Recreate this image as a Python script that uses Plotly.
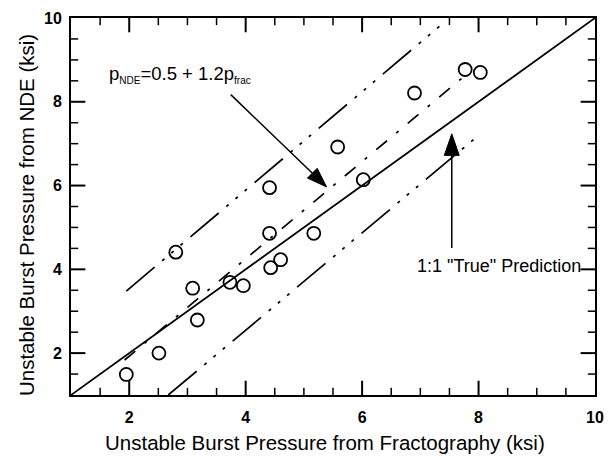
import plotly.graph_objects as go

# Burst pressure: fractography estimate (x) vs NDE estimate (y), ksi
p_frac = [1.95, 2.51, 2.80, 3.09, 3.17, 3.73, 3.96, 4.41, 4.43, 4.60,
          4.41, 5.17, 5.58, 6.02, 6.90, 7.77, 8.03]
p_nde = [1.49, 2.00, 4.41, 3.55, 2.79, 3.69, 3.61, 5.95, 4.04, 4.23,
         4.86, 4.86, 6.92, 6.14, 8.21, 8.77, 8.70]

# 1:1 reference line
ideal_x = [1, 10]
ideal_y = [1, 10]

# regression line and its scatter band (end points)
fit_x = [1.92, 7.81]
fit_y = [1.835, 8.675]
upper_x = [1.95, 7.33]
upper_y = [3.48, 9.805]
lower_x = [2.67, 8.01]
lower_y = [1.0, 7.21]

# axis ticks (same on both axes)
major_ticks = [2, 4, 6, 8, 10]
minor_ticks = [1.5, 2.5, 3, 3.5, 4.5, 5, 5.5, 6.5, 7, 7.5, 8.5, 9, 9.5]

W, H = 614, 460
ML, MR, MT, MB = 71, 16, 10, 65
XR = [1, 10]
YR = [1, 10]
PW = W - ML - MR
PH = H - MT - MB
XU = PW / (XR[1] - XR[0])   # px per x unit
YU = PH / (YR[1] - YR[0])   # px per y unit


def to_px(x, y):
    return (x - XR[0]) * XU, (y - YR[0]) * YU


def to_data(px, py):
    return XR[0] + px / XU, YR[0] + py / YU


def arrow_shapes(tail, tip, head_len, half_w, width=1.5):
    tx, ty = to_px(*tail)
    hx, hy = to_px(*tip)
    dx, dy = hx - tx, hy - ty
    n = (dx * dx + dy * dy) ** 0.5
    ux, uy = dx / n, dy / n
    nx, ny = -uy, ux
    bx, by = hx - head_len * ux, hy - head_len * uy
    p1 = to_data(bx + half_w * nx, by + half_w * ny)
    p2 = to_data(bx - half_w * nx, by - half_w * ny)
    shaft_end = to_data(hx - 0.7 * head_len * ux, hy - 0.7 * head_len * uy)
    path = "M {},{} L {},{} L {},{} Z".format(tip[0], tip[1], p1[0], p1[1], p2[0], p2[1])
    return [
        dict(type="line", xref="x", yref="y", x0=tail[0], y0=tail[1],
             x1=shaft_end[0], y1=shaft_end[1], line=dict(color="black", width=width)),
        dict(type="path", xref="x", yref="y", path=path, fillcolor="black",
             line=dict(color="black", width=1)),
    ]


def inward_tick_markers(values, length_px, width):
    """Tick marks as line-shaped markers sitting just inside each edge of the frame."""
    hx = length_px / 2 / XU
    hy = length_px / 2 / YU
    traces = []
    # bottom and top edges: vertical strokes
    for y_edge in (YR[0] + hy, YR[1] - hy):
        traces.append(go.Scatter(
            x=values, y=[y_edge] * len(values), mode="markers", hoverinfo="skip",
            marker=dict(symbol="line-ns", size=length_px, color="black",
                        line=dict(color="black", width=width))))
    # left and right edges: horizontal strokes
    for x_edge in (XR[0] + hx, XR[1] - hx):
        traces.append(go.Scatter(
            x=[x_edge] * len(values), y=values, mode="markers", hoverinfo="skip",
            marker=dict(symbol="line-ew", size=length_px, color="black",
                        line=dict(color="black", width=width))))
    return traces


fig = go.Figure()

fig.add_trace(go.Scatter(x=ideal_x, y=ideal_y, mode="lines",
                         line=dict(color="black", width=1.8), hoverinfo="skip"))
fig.add_trace(go.Scatter(x=fit_x, y=fit_y, mode="lines",
                         line=dict(color="black", width=1.7, dash="14px,12px,3px,12px"),
                         hoverinfo="skip"))
for bx_, by_ in ((upper_x, upper_y), (lower_x, lower_y)):
    fig.add_trace(go.Scatter(x=bx_, y=by_, mode="lines",
                             line=dict(color="black", width=1.7,
                                       dash="37px,10px,3px,9px,3px,9px,3px,10px"),
                             hoverinfo="skip"))

fig.add_trace(go.Scatter(x=p_frac, y=p_nde, mode="markers",
                         marker=dict(symbol="circle-open", size=13, color="black",
                                     line=dict(width=1.8, color="black"))))

for tr in inward_tick_markers(major_ticks[:-1], 12, 2):
    fig.add_trace(tr)
for tr in inward_tick_markers(minor_ticks, 6, 1.5):
    fig.add_trace(tr)

shapes = []
shapes += arrow_shapes((3.744, 8.17), (5.389, 5.968), 20, 7)
shapes += arrow_shapes((7.54, 4.51), (7.54, 7.235), 22, 7.5)

axis_common = dict(
    showgrid=False, zeroline=False, showline=True, linecolor="black",
    linewidth=2, mirror=True, ticks="", tickmode="array",
    tickvals=major_ticks, ticktext=["<b>%d</b>" % v for v in major_ticks],
    tickfont=dict(family="Arial", size=16, color="black"),
)

fig.update_layout(
    width=W, height=H,
    margin=dict(l=ML, r=MR, t=MT, b=MB),
    paper_bgcolor="white", plot_bgcolor="white",
    font=dict(family="Arial", color="black"),
    showlegend=False,
    xaxis=dict(axis_common, range=XR, ticklabelstandoff=7),
    yaxis=dict(axis_common, range=YR, ticklabelstandoff=4),
    shapes=shapes,
    annotations=[
        dict(xref="x", yref="y", x=1.615, y=8.644, xanchor="left", yanchor="middle",
             showarrow=False,
             text="p<sub><span style='font-size:10px'>NDE</span></sub>=0.5 + 1.2p"
                  "<sub><span style='font-size:10px'>frac</span></sub>",
             font=dict(size=18.5)),
        dict(xref="x", yref="y", x=6.903, y=4.086, xanchor="left", yanchor="middle",
             showarrow=False, text='1:1 "True" Prediction',
             font=dict(size=18)),
        dict(xref="paper", yref="paper", x=(326.5 - ML) / PW, y=-(443 - MT - PH) / PH,
             xanchor="center", yanchor="middle", showarrow=False,
             text="Unstable Burst Pressure from Fractography (ksi)",
             font=dict(size=20.5)),
        dict(xref="paper", yref="paper", x=-(ML - 27) / PW, y=1 - (211 - MT) / PH,
             xanchor="center", yanchor="middle", showarrow=False, textangle=-90,
             text="Unstable Burst Pressure from NDE (ksi)",
             font=dict(size=20.5)),
    ],
)

fig.write_html("out.html")
